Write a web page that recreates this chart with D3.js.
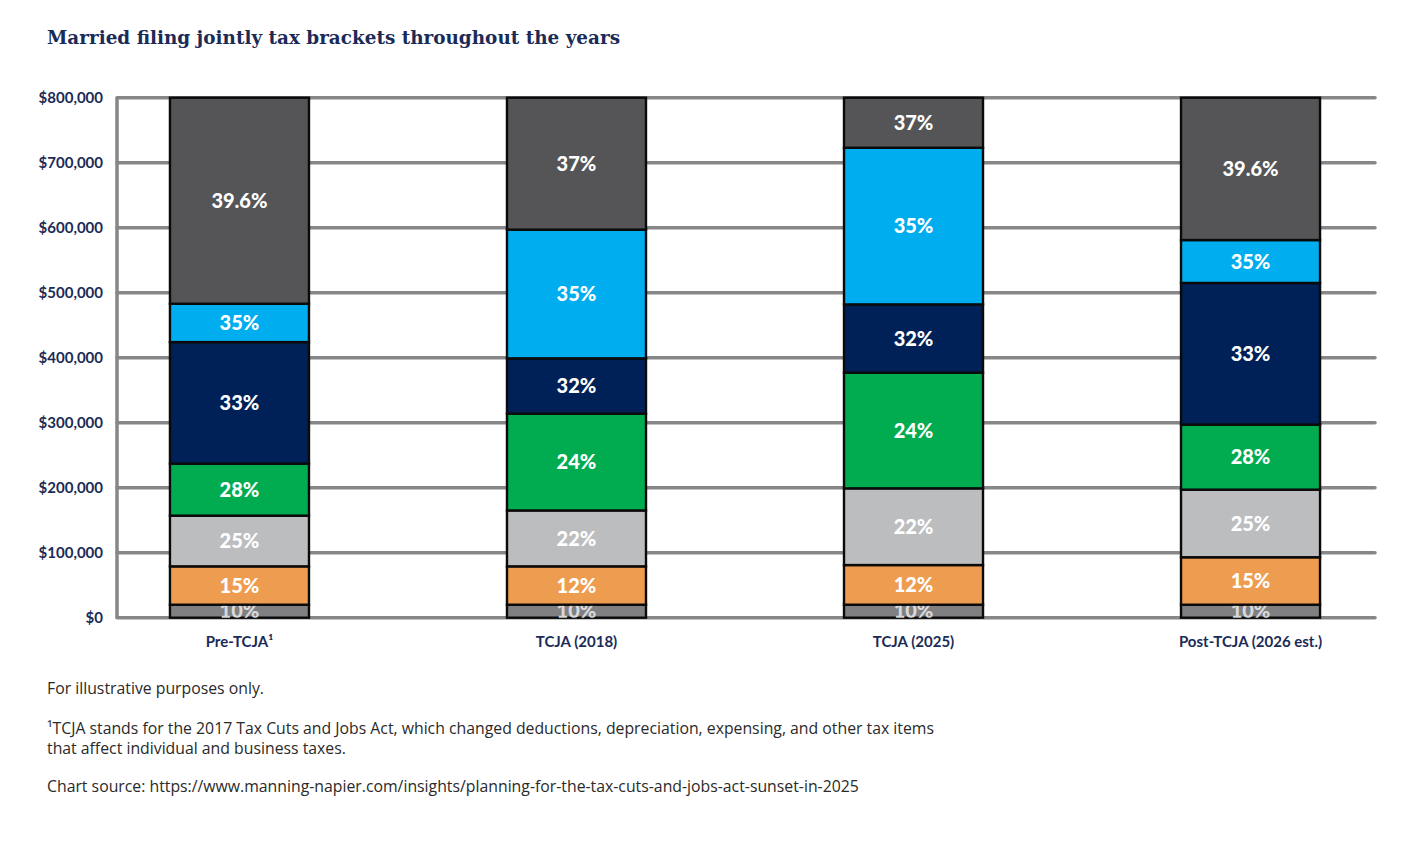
<!DOCTYPE html>
<html>
<head>
<meta charset="utf-8">
<script src="https://cdn.jsdelivr.net/npm/d3@7"></script>
<style>
  html, body { margin: 0; padding: 0; background: #fff; }
  svg { display: block; }
</style>
</head>
<body>
<svg id="chart" width="1425" height="863"></svg>
<script>
const categories = ["Pre-TCJA¹", "TCJA (2018)", "TCJA (2025)", "Post-TCJA (2026 est.)"];
const rates = [
  ["10%", "15%", "25%", "28%", "33%", "35%", "39.6%"],
  ["10%", "12%", "22%", "24%", "32%", "35%", "37%"],
  ["10%", "12%", "22%", "24%", "32%", "35%", "37%"],
  ["10%", "15%", "25%", "28%", "33%", "35%", "39.6%"]
];
// upper thresholds of each bracket (as drawn; top bracket runs to chart top)
const thresholds = [
  [20000, 79000, 157000, 237000, 424000, 483000, 800000],
  [20000, 79000, 165000, 314000, 399000, 597000, 800000],
  [20000, 81000, 199000, 377000, 482000, 723000, 800000],
  [20000, 93000, 197000, 297000, 515000, 581000, 800000]
];
const yTicks = [0, 100000, 200000, 300000, 400000, 500000, 600000, 700000, 800000];
const levelColors = ["#808083", "#ee9c4f", "#bcbdbf", "#00ac4f", "#002157", "#00adef", "#555557"];
const labelColors = ["#d9d9db", "#ffffff", "#ffffff", "#ffffff", "#ffffff", "#ffffff", "#ffffff"];

const svg = d3.select("#chart");
const navy = "#1b2b57";

svg.append("text")
  .attr("x", 47).attr("y", 44)
  .attr("font-family", "'DejaVu Serif', serif")
  .attr("font-weight", "bold")
  .attr("font-size", 19)
  .attr("fill", navy)
  .attr("textLength", 573)
  .attr("lengthAdjust", "spacingAndGlyphs")
  .text("Married filing jointly tax brackets throughout the years");

const y = d3.scaleLinear().domain([0, 800000]).range([617.7, 97.7]);
const x = d3.scaleBand().domain(categories).range([113, 1377]).paddingInner(0.5875).paddingOuter(0.169);

const plotLeft = 117, plotRight = 1375;

// gridlines
const grid = svg.append("g");
grid.selectAll("line.g").data(yTicks).join("line")
  .attr("x1", plotLeft).attr("x2", plotRight)
  .attr("y1", d => y(d)).attr("y2", d => y(d))
  .attr("stroke", "#878789").attr("stroke-width", 3.5).attr("stroke-linecap", "round");
grid.append("line")
  .attr("x1", plotLeft).attr("x2", plotLeft)
  .attr("y1", y(800000)).attr("y2", y(0))
  .attr("stroke", "#878789").attr("stroke-width", 3.5);

// y axis labels
const yAxis = d3.axisLeft(y).tickValues(yTicks).tickSize(0).tickPadding(0)
  .tickFormat(d => "$" + d3.format(",")(d));
const ya = svg.append("g").attr("transform", `translate(103,0)`).call(yAxis);
ya.select(".domain").remove();
ya.selectAll("text")
  .attr("font-family", "Lato, 'Open Sans', sans-serif")
  .attr("font-weight", "bold")
  .attr("font-size", 15)
  .attr("fill", navy)
  .attr("dy", "0.35em");

// bars
const defs = svg.append("defs");
categories.forEach((cat, ci) => {
  const g = svg.append("g");
  const segs = thresholds[ci].map((t, i) => ({
    lo: i === 0 ? 0 : thresholds[ci][i - 1], hi: t, rate: rates[ci][i], level: i
  }));
  segs.forEach((s, si) => {
    const x0 = x(cat), w = x.bandwidth();
    const y0 = y(s.hi), h = y(s.lo) - y(s.hi);
    const id = `clip-${ci}-${si}`;
    defs.append("clipPath").attr("id", id).append("rect")
      .attr("x", x0).attr("y", y0).attr("width", w).attr("height", h);
    g.append("rect")
      .attr("x", x0).attr("y", y0).attr("width", w).attr("height", h)
      .attr("fill", levelColors[s.level])
      .attr("stroke", "#0a0a0a").attr("stroke-width", 2.4);
    g.append("text")
      .attr("clip-path", `url(#${id})`)
      .attr("x", x0 + w / 2)
      .attr("y", y0 + h / 2)
      .attr("dy", "0.36em")
      .attr("text-anchor", "middle")
      .attr("font-family", "Lato, 'Open Sans', sans-serif")
      .attr("font-weight", "900")
      .attr("font-size", 20)
      .attr("fill", labelColors[s.level])
      .text(s.rate);
  });
});

// category labels
svg.append("g").selectAll("text").data(categories).join("text")
  .attr("x", d => x(d) + x.bandwidth() / 2)
  .attr("y", 647)
  .attr("text-anchor", "middle")
  .attr("font-family", "Lato, 'Open Sans', sans-serif")
  .attr("font-weight", "bold")
  .attr("font-size", 15)
  .attr("fill", navy)
  .text(d => d);

// footnotes
const notes = [
  { t: "For illustrative purposes only.", y: 694 },
  { t: "¹TCJA stands for the 2017 Tax Cuts and Jobs Act, which changed deductions, depreciation, expensing, and other tax items", y: 734 },
  { t: "that affect individual and business taxes.", y: 754 },
  { t: "Chart source: https://www.manning-napier.com/insights/planning-for-the-tax-cuts-and-jobs-act-sunset-in-2025", y: 792 }
];
svg.append("g").selectAll("text").data(notes).join("text")
  .attr("x", 47).attr("y", d => d.y)
  .attr("font-family", "'Open Sans', sans-serif")
  .attr("font-size", 15.8)
  .attr("fill", "#2a2a2a")
  .text(d => d.t);
</script>
</body>
</html>
